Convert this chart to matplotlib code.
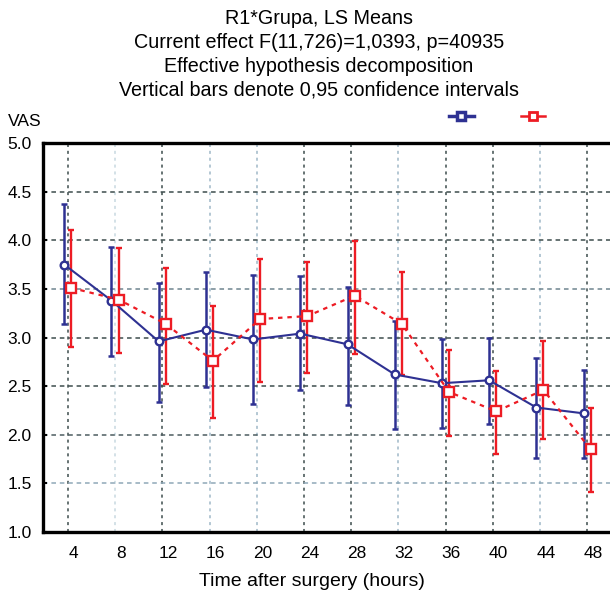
import numpy as np
import matplotlib
matplotlib.use('Agg')
import matplotlib.pyplot as plt
from matplotlib.lines import Line2D

plt.rcParams['font.family'] = ['Liberation Sans', 'DejaVu Sans']

hours = [4, 8, 12, 16, 20, 24, 28, 32, 36, 40, 44, 48]

# group 1 (blue), LS means and 0.95 CI
g1_mean = [3.75, 3.38, 2.96, 3.08, 2.98, 3.04, 2.93, 2.62, 2.53, 2.56, 2.28, 2.22]
g1_low = [3.14, 2.81, 2.34, 2.49, 2.32, 2.46, 2.31, 2.06, 2.07, 2.11, 1.76, 1.76]
g1_high = [4.37, 3.93, 3.56, 3.67, 3.64, 3.63, 3.52, 3.17, 2.98, 2.99, 2.79, 2.67]

# group 2 (red)
g2_mean = [3.51, 3.39, 3.14, 2.76, 3.19, 3.22, 3.43, 3.14, 2.44, 2.24, 2.46, 1.85]
g2_low = [2.90, 2.84, 2.52, 2.17, 2.54, 2.64, 2.83, 2.61, 1.99, 1.80, 1.96, 1.41]
g2_high = [4.11, 3.92, 3.71, 3.32, 3.81, 3.78, 3.99, 3.67, 2.87, 2.66, 2.96, 2.28]

title_lines = ["R1*Grupa, LS Means",
               "Current effect F(11,726)=1,0393, p=40935",
               "Effective hypothesis decomposition",
               "Vertical bars denote 0,95 confidence intervals"]

blue = '#2e3192'
red = '#ed1c24'

fig = plt.figure(figsize=(6.10, 5.91), dpi=100)
ax = fig.add_axes([42.8 / 610, 59 / 591, 1 - 42.8 / 610, 389 / 591])

idx = np.arange(len(hours))

# grid
vcols = ['#3d4d4d', '#c8d8e0', '#3d4d4d', '#9fb8c8', '#9fb8c8', '#3d4d4d',
         '#3d4d4d', '#9fb8c8', '#3d4d4d', '#3d4d4d', '#9fb8c8', '#3d4d4d']
for i, c in zip(idx, vcols):
    ax.axvline(i, color=c, lw=1.1, ls=(0, (2, 2.5)), zorder=0)
hcols = {4.5: '#3d4d4d', 4.0: '#3d4d4d', 3.5: '#6f8590', 3.0: '#3d4d4d',
         2.5: '#3d4d4d', 2.0: '#4d5d60', 1.5: '#8fa8b8'}
for yv, c in hcols.items():
    ax.axhline(yv, color=c, lw=1.1, ls=(0, (3, 2.5)), zorder=0)

x1 = idx - 0.08
x2 = idx + 0.07
m1 = np.array(g1_mean)
m2 = np.array(g2_mean)

ax.errorbar(x1, m1, yerr=[m1 - np.array(g1_low), np.array(g1_high) - m1],
            fmt='none', ecolor=blue, elinewidth=1.8, capsize=2.5, capthick=1.8, zorder=2)
ax.errorbar(x2, m2, yerr=[m2 - np.array(g2_low), np.array(g2_high) - m2],
            fmt='none', ecolor=red, elinewidth=1.7, capsize=2.5, capthick=1.7, zorder=2)

ax.plot(x1, m1, color=blue, lw=1.5, marker='o', ms=5.5, mfc='white',
        mec=blue, mew=1.7, zorder=3)
ax.plot(x2, m2, color=red, lw=1.6, ls=(0, (2, 2.2)), marker='s', ms=6.5,
        mfc='white', mec=red, mew=1.7, zorder=3)

ax.set_xlim(-0.534, 11.48)
ax.set_ylim(1.0, 5.0)
ax.set_yticks([1.0, 1.5, 2.0, 2.5, 3.0, 3.5, 4.0, 4.5, 5.0])
ax.set_yticklabels(['%.1f' % v for v in ax.get_yticks()], fontsize=12.5)
ax.set_xticks(idx + 0.12)
ax.set_xticklabels([str(h) for h in hours], fontsize=12.5)
ax.tick_params(axis='x', length=0, pad=10)
ax.tick_params(axis='y', length=3, direction='in', width=1.5, pad=8)

for s in ['left', 'top', 'bottom']:
    ax.spines[s].set_linewidth(2.4)
    ax.spines[s].set_color('black')
ax.spines['right'].set_visible(False)

ax.set_xlabel('Time after surgery (hours)', fontsize=14, labelpad=9)
ax.xaxis.label.set_x((312 - 42.8) / (610 - 42.8))
fig.text(25 / 610, 1 - 122 / 591, 'VAS', fontsize=12.5, ha='center', va='center')

for k, line in enumerate(title_lines):
    fig.text(319 / 610, 1 - (19 + 23.5 * k) / 591, line, fontsize=14.2,
             ha='center', va='center')

handles = [Line2D([], [], color=blue, lw=2.5, marker='s', ms=6, mfc='white', mec=blue, mew=2.5),
           Line2D([], [], color=red, lw=1.8, marker='s', ms=6, mfc='white', mec=red, mew=2)]
fig.legend(handles, ['', ''], ncol=2, frameon=False, handlelength=1.6,
           handletextpad=0.1, columnspacing=3.0, fontsize=11,
           loc='center', bbox_to_anchor=(498 / 610, 1 - 117 / 591))

fig.savefig('out.png', dpi=100)
